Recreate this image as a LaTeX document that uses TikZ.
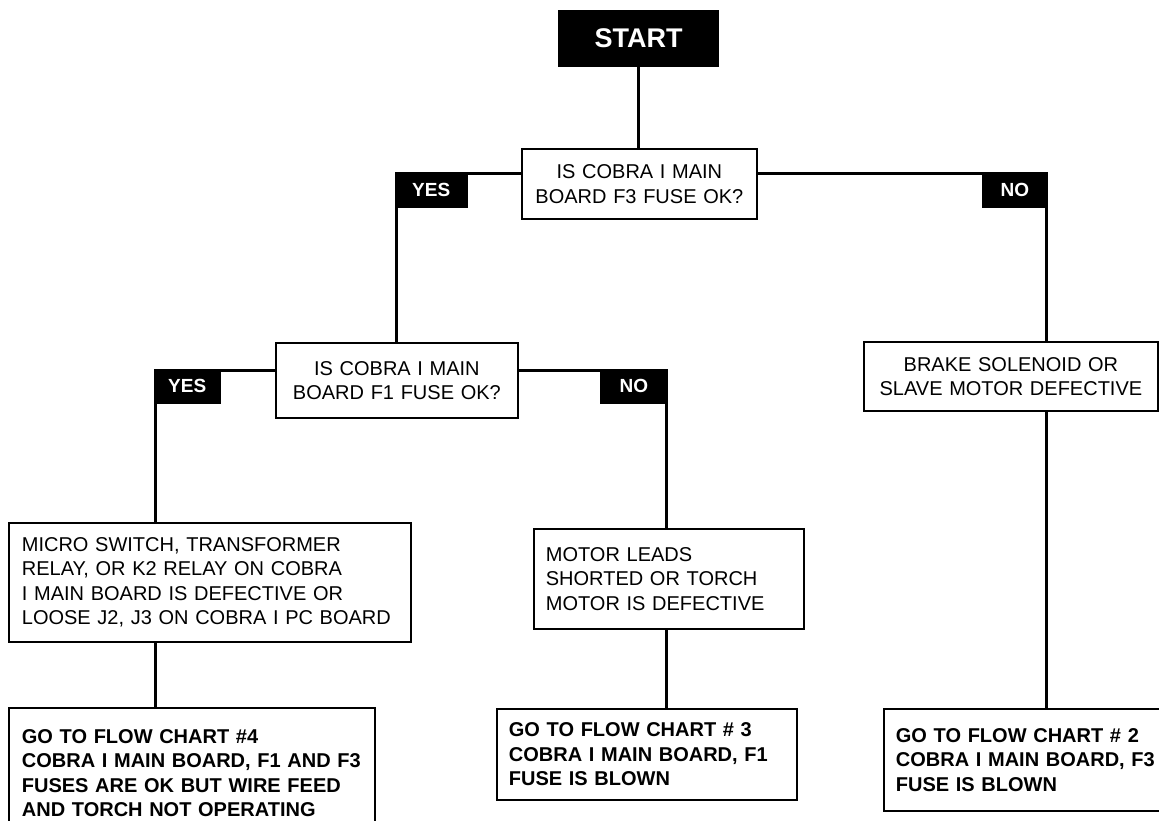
\documentclass[tikz,border=0pt]{standalone}
\usepackage{fontspec}
\setmainfont{Liberation Sans}
\newcommand\fsn{\fontsize{20}{24.5}\selectfont}
\newcommand\fsl{\fontsize{19}{22}\selectfont}
\newcommand\fss{\fontsize{27}{30}\selectfont}
\begin{document}
\begin{tikzpicture}[x=1pt,y=-1pt,
  box/.style={draw, line width=1.8pt, inner xsep=12pt, inner ysep=2pt, anchor=north west, font=\fsn},
  lbox/.style={box, align=left},
  cbox/.style={box, align=center},
  lab/.style={fill=black, text=white, font=\fsl\bfseries, minimum height=35, inner sep=0pt},
  conn/.style={line width=3pt, line join=miter}]
\useasboundingbox (0,0) rectangle (1159,821);
\clip (0,0) rectangle (1159,821);
% nodes
\node[fill=black, text=white, font=\fss\bfseries, anchor=north west, minimum width=161, minimum height=57, inner sep=0pt] (start) at (558,10) {START};
\node[cbox, text width=211, minimum height=70] (q1) at (521,148) {IS COBRA I MAIN\\BOARD F3 FUSE OK?};
\node[cbox, text width=218, minimum height=75] (f1) at (275,342) {IS COBRA I MAIN\\BOARD F1 FUSE OK?};
\node[cbox, text width=270, minimum height=69] (brake) at (863,341) {BRAKE SOLENOID OR\\SLAVE MOTOR DEFECTIVE};
\node[lbox, text width=376, minimum height=119, inner xsep=13pt] (micro) at (8,522) {\mbox{MICRO SWITCH, TRANSFORMER}\\\mbox{RELAY, OR K2 RELAY ON COBRA}\\\mbox{I MAIN BOARD IS DEFECTIVE OR}\\\mbox{LOOSE J2, J3 ON COBRA I PC BOARD}};
\node[lbox, text width=246, minimum height=100] (motor) at (533,528) {\mbox{MOTOR LEADS}\\\mbox{SHORTED OR TORCH}\\\mbox{MOTOR IS DEFECTIVE}};
\node[lbox, text width=340, minimum height=130, inner xsep=13pt, font=\fsn\bfseries] (r4) at (8,707) {\mbox{GO TO FLOW CHART \#4}\\\mbox{COBRA I MAIN BOARD, F1 AND F3}\\\mbox{FUSES ARE OK BUT WIRE FEED}\\\mbox{AND TORCH NOT OPERATING}};
\node[lbox, text width=276, minimum height=91, font=\fsn\bfseries] (r3) at (496,708) {\mbox{GO TO FLOW CHART \# 3}\\\mbox{COBRA I MAIN BOARD, F1}\\\mbox{FUSE IS BLOWN}};
\node[lbox, text width=266, minimum height=102, font=\fsn\bfseries] (r2) at (883,708) {\mbox{GO TO FLOW CHART \# 2}\\\mbox{COBRA I MAIN BOARD, F3}\\\mbox{FUSE IS BLOWN}};
% corner coordinates
\coordinate (c1) at (396,174);
\coordinate (c2) at (1046,174);
\coordinate (c3) at (155,370);
\coordinate (c4) at (666,370);
% connectors
\draw[conn] (start.south) -- (start.south |- q1.north);
\draw[conn] (q1.west |- c1) -- (c1) -- (c1 |- f1.north);
\draw[conn] (q1.east |- c2) -- (c2) -- (c2 |- brake.north);
\draw[conn] (brake.south -| c2) -- (c2 |- r2.north);
\draw[conn] (f1.west |- c3) -- (c3) -- (c3 |- micro.north);
\draw[conn] (micro.south -| c3) -- (c3 |- r4.north);
\draw[conn] (f1.east |- c4) -- (c4) -- (c4 |- motor.north);
\draw[conn] (motor.south -| c4) -- (c4 |- r3.north);
% labels
\node[lab, anchor=north west, minimum width=73] (yes1) at ([xshift=-1.5pt,yshift=1.5pt]c1) {YES};
\node[lab, anchor=north east, minimum width=65] (no1) at ([xshift=1.5pt,yshift=1.5pt]c2) {NO};
\node[lab, anchor=north west, minimum width=67] (yes2) at ([xshift=-1.5pt,yshift=1.5pt]c3) {YES};
\node[lab, anchor=north east, minimum width=67] (no2) at ([xshift=1.5pt,yshift=1.5pt]c4) {NO};
\end{tikzpicture}
\end{document}
